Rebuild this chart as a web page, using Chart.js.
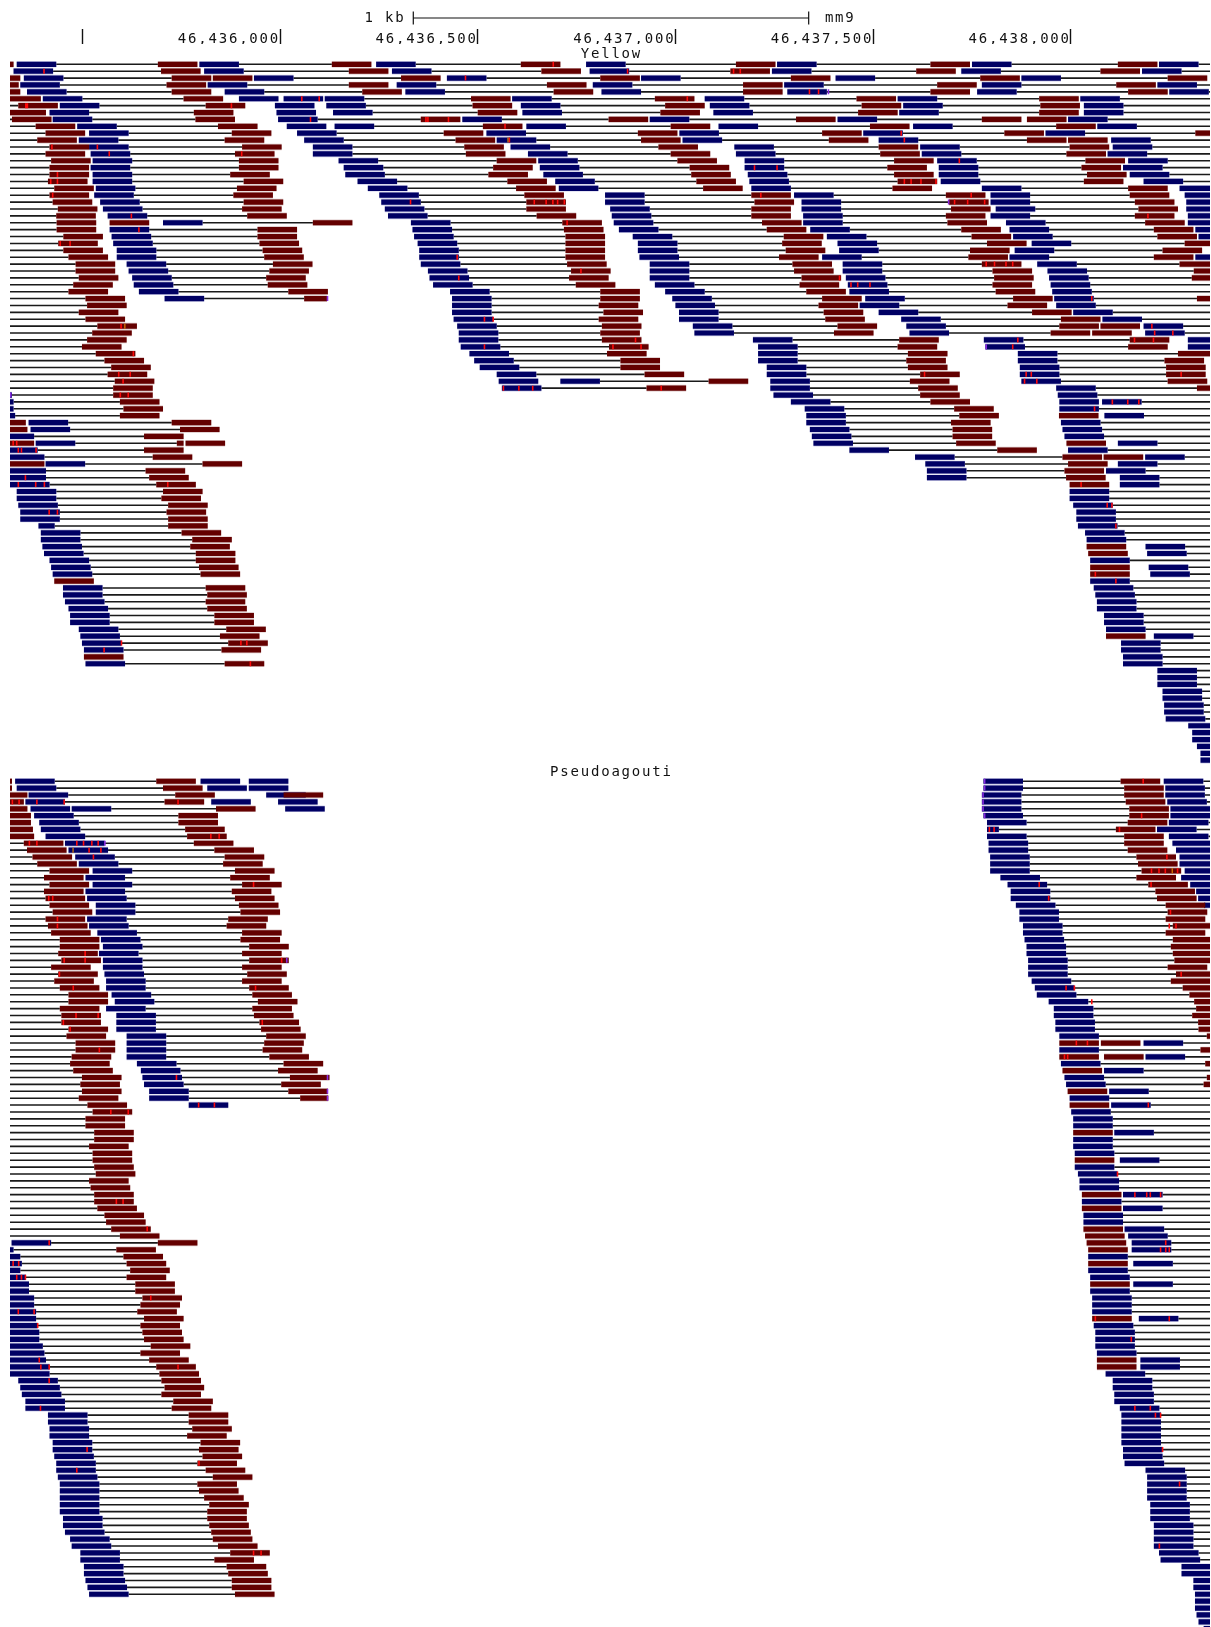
<!DOCTYPE html>
<html>
<head>
<meta charset="utf-8">
<title>Yellow / Pseudoagouti read pairs, mm9</title>
<style>html,body{margin:0;padding:0;background:#fff;overflow:hidden}canvas{display:block}</style>
<script src="https://cdn.jsdelivr.net/npm/chart.js@4"></script>
</head>
<body>
<canvas id="c" width="1211" height="1627"></canvas>
<script>
// Browser window, genome coordinates (mm9)
const windowStart = 46435317;
const windowLength = 3035;
const readLength = 100;
const maxInsertGap = 700;
const tickPositions = [46435500, 46436000, 46436500, 46437000, 46437500, 46438000];
const tickLabels = ['', '46,436,000', '46,436,500', '46,437,000', '46,437,500', '46,438,000'];
const scaleBarStart = 46436337, scaleBarEnd = 46437337;
const pseudoagoutiRowOffset = 104.05;

// Read starts, bp from windowStart, one list per row. [start, length] = shorter read.
const yellowForward = [
[17,479,926,1457,1940,2433,2906],[9,491,966,1466,1927,2406,2863],[35,617,1105,1596,2088,2558],[26,500,978,1474,1958,2458,2902],
[43,543,1000,1496,1966,2446,2932],[83,579,692,796,1270,1757,2245,2707],[126,670,800,1292,1770,2259,2716],[100,674,817,1296,1779,2249,2716],
[108,678,1144,1618,2093,2676],[170,700,821,1306,1792,2284,2750],[200,726,1205,1693,2158,2619],[174,744,1231,1701,2197,2785],
[200,766,1266,1832,2302,2789],[204,766,1310,1836,2306,2776],[209,831,1336,1858,2345,2828],[204,844,1340,1858,2349,2815],
[209,848,1349,1866,2349,2832],[209,879,1379,1870,2354,2867],[217,905,1388,1875,2458,2958],[213,934,1505,1983,2480,2971],
[228,939,1505,2002,2480,2975],[235,948,1518,2002,2493,2975],[247,956,1522,2006,2480,2979],
[387,1014,1527,2006,2519,2979],[252,1018,1540,2024,2528,2998],[257,1022,1575,2066,2537,3006],[261,1031,1588,2093,2584],
[270,1035,1588,2097,2541],[270,1035,1592,2054,2528,2998],[295,1039,1618,2106,2598],[300,1057,1618,2106,2624],
[309,1061,1618,2114,2628],[313,1070,1631,2119,2632],[326,1113,1657,2123,2636],[391,1118,1675,2163,2641],
[1118,1683,2149,2646],[1118,1692,2197,2689],[1122,1692,2254,2763],[1131,1727,2267,2867],[1135,1731,2275,2871],
[1135,1879,2463,2979],[1140,1892,2467,2979],[1162,1892,2549],[1174,1892,2549],[1188,1914,2554],
[1231,1914,2554],[1236,1392,1923,2558],[1244,1923,2646],[-95,1931,2650],[-91,1975,2654,2762],
[-91,2010,2654],[-87,2014,2768],[47,2014,2658],[52,2023,2662],[-39,2028,2667],
[65,2032,2802],[-30,2123,2676],[-13,2289,2871],[90,2315,2802],[-9,2319,2772],
[-9,2319,2807],[0,2807],[17,2680],[17,2680],[21,2689],
[26,2697],[26,2697],[[72,41],2701],[78,2719],[78,2723],
[82,2872],[86,2876],[100,2732],[104,2880],[108,2884],
[2732],[134,2741],[134,2745],[139,2749],[148,2749],
[152,2767],[152,2767],[174,2772],[178,2893],[182,2810],
[187,2810],[2815],[191,2815],[2902],[2902],
[2902],[2915],[2915],[2919],[2919],
[2923],[2980],[2990],[2990],[3002],[3011],[3011]
];
const yellowReverse = [
[-91,374,814,1292,1836,2328,2802],[382,857,1344,1822,2292,2758],[-74,409,513,989,1493,1975,2454,2928],[-78,396,857,1358,1854,2345,2798],
[-74,409,891,1375,1854,2328,2828],[-22,439,1166,1631,2141,2603],[21,495,1170,1657,2154,2606],[-9,465,1183,1645,2145,2603],
[5,469,1039,1514,1988,2458,2572],[65,526,1196,1671,2175,2646],[90,561,1097,1588,2054,2515,2998],[69,543,1127,1596,2071,2572,2676],
[100,587,1149,1640,2197,2680],[90,569,1153,1671,2201,2672],[104,579,1231,1688,2236,2720],[100,579,1222,1719,2219,2710],
[100,557,1210,1723,2236,2724],[96,591,1258,1736,2245,2716],[112,574,1280,1753,2232,2828],[100,565,1301,1875,2367,2832],
[108,591,1306,1883,2375,2845],[121,587,1306,1875,2380,2854],[117,600,1332,1875,2367,2845],
[118,252,766,1397,1902,2371,2871],[118,626,1401,1914,2406,2893],[135,626,1405,1957,2432,2902],[122,631,1405,1953,2471,2971],
[135,639,1405,1962,2428,2915],[148,643,1405,1945,2424,2893],[166,665,1409,1979,2458,2958],[166,656,1419,1983,2485,2994],
[174,648,1414,2002,2489,2989],[160,652,1431,1997,2485],[148,704,1493,2014,2493],[191,[744,58],1493,2054,2537,3002],
[195,1489,2045,2523],[174,1501,2058,2585],[191,1489,2062,2658],[221,1497,2093,2654,2758],[208,1493,2084,2632,2737],
[195,1497,2249,2832],[182,1515,2245,2828],[217,1510,2271,2954],[239,1544,2267,2920],[256,1544,2271,2924],
[247,1605,2302,2924],[265,1767,2276,2928],[261,1610,2297,3002],[261,2302],[278,2328],
[287,2388],[278,2401,2653],[-60,409,2380],[-56,430,2384],[339,2384],
[-39,[422,17],444,2393,2672],[339,2497],[361,2662,2766],[-13,487,2676],[343,2667],
[352,2671],[370,2680],[387],[383],[400],
[396],[400],[400],[434],[461],
[456,2723],[470,2727],[470],[478,2732],[482,2732],
[112],[495],[499],[495],[499],
[517],[517],[547],[531,2772],[552],
[535],[187],[543],[],[],
[],[],[],[],[],
[],[],[],[],[],[],[]
];
const yellowUnlinkedRows = [75, 86];

const pseudoagoutiForward = [
[13,482,604,2462,2918],[17,499,604,2462,2922],[47,648,2458,2922],[39,509,678,2458,2927],[52,156,696,2458,2935],
[61,2462,2935],[74,2471,2931],[78,[2471,30],2901],[90,2471,2931],[139,2475,2940],
[148,2475,2949],[165,2479,2958],[174,2479,2958],[209,2479,2971],[191,2505,2962],
[209,2523,2985],[191,2531,3000],[195,2531,3005],[217,2544,3020],[217,2553],
[195,2553],[200,2562],[221,2562],[230,2566],[235,2571],
[225,2571],[235,2575],[235,2575],[239,2575],[243,2584],
[243,2592],[257,2597],[265,2627],[243,2640],[269,2640],
[269,2644],[269,2644],[295,2654],[295,2867],[295,2654],
[295,2872],[321,2658],[331,2767],[335,2667],[339,2671],
[352,2780],[352,2680],[452,2785],[2684],[2689],
[2689],[2793],[2689],[2689],[2693],
[2807],[2693],[2701],[2705],[2705],
[2815],[2711],[2815],[2715],[2715],
[2819],[2828],[4,2837],[-91,2837],[-74,2727],
[-70,2841],[-74,2727],[-60,2732],[-52,2841],[-52,2732],
[-39,2737],[-39,2737],[-34,2737],[-34,2855],[-30,2741],
[-26,2745],[-26,2745],[-17,2745],[-13,2749],[-9,2859],
[0,2859],[0,2771],[21,2789],[26,2789],[30,2793],
[39,2793],[39,2807],[96,2811],[96,2811],[100,2811],
[100,2811],[108,2811],[108,2815],[112,2815],[117,2819],
[117,2872],[121,2876],[126,2876],[126,2876],[126,2876],
[126,2884],[126,2884],[134,2884],[134,2893],[139,2893],
[152,2893],[156,2893],[178,2906],[178,2910],[187,2963],
[187,2963],[191,2993],[196,2993],[200,2997],[2997],
[2997],[3001],[3006],[3019]
];
const pseudoagoutiReverse = [
[-95,370,2809],[-95,387,2818],[-56,418,692,2818],[-65,391,2822],[-56,521,2831],
[-47,426,2831],[-47,426,2827],[-42,443,2797],[-39,448,2818],[35,465,2818],
[43,517,2827],[57,543,2849],[69,539,2853],[100,569,2862],[86,557,2849],
[100,587,2879],[86,561,2897],[90,569,2901],[100,579,2923],[108,583,2928],
[90,552,2923],[96,548,2941],[104,587,2923],[126,583,2941],[126,605,2936],
[122,587,2941],[130,605,2945],[104,587,2928],[122,600,2949],[112,587,2936],
[126,605,2966],[148,613,2983],[148,627,2995],[126,613,3000],[130,617,2990],
[130,631,3005],[148,635,3006],[143,648,3027],[166,643,2654,2759],[166,639,3011],
[156,656,2654,2767],[152,692,3023],[160,678,2662],[182,708,3027],[178,686,3019],
[182,704,2675],[174,[734,71]],[196,2680],[209],[191],
[191],[213,2689],[213],[200],[209],
[209,2693],[213],[217],[200],[204],
[213,2711],[213],[221,2711],[239],[243],
[256,2715],[278,2719],[374,2723],[269,2727],[287],
[295,2727],[304],[295],[317,2732],[317],
[335],[330],[322],[339,2737],[330],
[335],[339],[356],[330],[352,2749],
[370,2749],[378],[383],[391],[383],
[413],[409],[452],[452],[461],
[448],[482],[478],[487],[474],
[495],[513],[474],[478],[491],
[504],[499],[499],[504],[509],
[513],[526],[557],[517],[548],
[552],[561],[561],[569],[],
[],[],[],[]
];

// Mismatched bases: [row, position in bp from windowStart]
const yellowMismatches = [
[1,84],[6,38],[6,42],[5,736],[5,780],[6,558],[8,758],[12,104],[12,219],[13,249],[13,584],[16,118],[17,101],[17,118],[19,106],[22,305],
[0,1372],[1,1560],[1,1828],[1,1845],[2,1150],[5,1711],[8,1050],[8,1055],[8,1107],[9,1250],[11,1261],[15,1881],[15,1938],[19,1897],
[20,1324],[20,1354],[20,1371],[20,1383],[20,1400],[20,1011],[4,2020],[4,2043],[10,2252],[11,2260],[14,2399],[17,2260],[17,2277],[17,2302],[17,2340],
[19,2429],[20,2387],[20,2420],[20,2463],[22,2876],[24,324],[26,125],[26,150],[38,279],[42,310],[45,273],[45,302],[46,284],[48,277],[48,297],
[23,1407],[28,1129],[30,1442],[31,1133],[37,1198],[37,1220],[40,1580],[41,1198],[41,1523],[41,1594],[47,1246],[47,1285],[47,1320],[47,1645],
[29,2467],[29,2488],[29,2517],[29,2534],[31,2096],[32,2125],[32,2142],[32,2173],[34,2734],[38,2886],[39,2893],[39,2939],[40,2842],[40,2890],[40,2547],
[41,2534],[45,2311],[45,2568],[45,2581],[45,2960],[46,2564],[46,2595],[49,2786],[49,2825],[49,2853],[50,2741],
[55,6],[55,15],[56,19],[56,27],[56,64],[60,37],[61,19],[61,63],[61,85],[61,397],[65,97],[65,118],[84,280],[84,582],[84,597],[85,236],[87,606],
[64,2773],[64,2785],[61,2707],[67,2795],[74,2743],[75,2795]
];
const pseudoagoutiMismatches = [
[3,4],[3,21],[3,66],[3,135],[3,423],[8,506],[8,527],[9,47],[9,66],[9,167],[9,184],[9,205],[9,221],[10,198],[10,228],[11,209],[15,614],[17,96],[17,106],
[20,118],[21,118],[25,188],[26,188],[26,135],[26,685],[28,123],[30,158],[30,619],[34,165],[34,221],[35,133],[35,636],[36,150],
[0,2864],[5,2860],[7,2475],[7,2487],[7,2804],[11,2924],[13,2885],[13,2904],[13,2920],[13,2951],[15,2601],[15,2884],[17,2625],[19,2933],[21,2930],[21,2947],[28,2960],[30,2669],[30,2690],[32,2734],
[39,224],[43,419],[47,475],[47,515],[48,253],[48,297],[61,267],[61,284],[65,345],[67,97],[70,6],[70,20],[72,15],[72,27],[72,37],[75,354],[77,19],[77,59],[79,68],[84,72],[85,76],[85,97],[85,423],[87,97],[91,75],[97,193],[99,476],[100,167],[112,614],[112,633],
[38,2695],[38,2723],[40,2665],[40,2673],[47,2877],[57,2799],[60,2843],[60,2873],[60,2882],[60,2908],[67,2921],[68,2908],[68,2921],[68,2930],[78,2743],[78,2930],[81,2834],[91,2843],[91,2882],[92,2895],[92,2908],[97,2913],[102,2956],[111,2905]
];
// Read-edge insertions (purple) and other base changes (orange): [row, position]
const yellowInsertions = [[48,0],[34,801],[4,2068],[20,2372],[41,2467]];
const pseudoagoutiInsertions = [[0,2463],[1,2463],[2,2459],[3,2459],[4,2459],[5,2463],[9,238],[26,698],[43,801],[45,801],[46,801]];
const yellowOrange = [[11,1258],[38,289]];
const pseudoagoutiOrange = [[10,158],[13,2938]];

// Text placed by genome position and row
const textLabels = [
  {text:'1 kb', x:46436317, row:-6.6, align:'right'},
  {text:'mm9', x:46437378, row:-6.6, align:'left'},
  {text:'Yellow', x:46436838, row:-1.5, align:'center'},
  {text:'Pseudoagouti', x:46436838, row:102.7, align:'center'}
];

const gap = {x:NaN, y:NaN};
const forwardPts = [], reversePts = [], linkPts = [], mismatchPts = [], insertionPts = [], orangePts = [];
const seg = (arr, a, b, y) => { arr.push({x:windowStart+a, y}, {x:windowStart+b, y}, gap); };

function addTrack(fwd, rev, marks, insertions, orange, offset, unlinked) {
  const rows = Math.max(fwd.length, rev.length);
  for (let r = 0; r < rows; r++) {
    const y = r + offset;
    const reads = [];
    const collect = (list, kind) => (list || []).forEach(e => {
      const start = Array.isArray(e) ? e[0] : e;
      const len = Array.isArray(e) ? e[1] : readLength;
      reads.push({kind, start, end: start + len});
    });
    collect(fwd[r], 'F'); collect(rev[r], 'R');
    reads.sort((a, b) => a.start - b.start);
    reads.forEach((rd, i) => {
      seg(rd.kind === 'F' ? forwardPts : reversePts, rd.start, rd.end, y);
      const next = reads[i + 1];
      if (rd.kind === 'F') {
        if (next) {
          if (next.kind === 'R' && next.start > rd.end && next.start - rd.end < maxInsertGap) seg(linkPts, rd.end, next.start, y);
        } else if (rd.end < windowLength && windowLength - rd.end < maxInsertGap) {
          seg(linkPts, rd.end, windowLength, y);
        }
      } else if (i === 0 && rd.start > 0 && rd.start < maxInsertGap && !unlinked.includes(r)) {
        seg(linkPts, 0, rd.start, y);
      }
    });
  }
  marks.forEach(m => seg(mismatchPts, m[1], m[1] + 4, m[0] + offset));
  insertions.forEach(m => seg(insertionPts, m[1], m[1] + 4, m[0] + offset));
  orange.forEach(m => seg(orangePts, m[1], m[1] + 3, m[0] + offset));
}
addTrack(yellowForward, yellowReverse, yellowMismatches, yellowInsertions, yellowOrange, 0, yellowUnlinkedRows);
addTrack(pseudoagoutiForward, pseudoagoutiReverse, pseudoagoutiMismatches, pseudoagoutiInsertions, pseudoagoutiOrange, pseudoagoutiRowOffset, []);

const barRow = -6.72;
const scaleBarPts = [{x:scaleBarStart,y:barRow},{x:scaleBarEnd,y:barRow},gap,
  {x:scaleBarStart,y:barRow-0.95},{x:scaleBarStart,y:barRow+0.95},gap,
  {x:scaleBarEnd,y:barRow-0.95},{x:scaleBarEnd,y:barRow+0.95}];

const FONT = '"DejaVu Sans Mono", monospace';
const base = {showLine:true, pointRadius:0, pointHoverRadius:0, borderCapStyle:'butt', tension:0, spanGaps:false, clip:0, fill:false};

const textPlugin = {
  id:'trackText',
  beforeDraw(chart){ chart.ctx.letterSpacing = '1.8px'; },
  afterDraw(chart){
    const ctx = chart.ctx, xs = chart.scales.x, ys = chart.scales.y;
    ctx.save();
    ctx.font = '14px ' + FONT; ctx.fillStyle = '#111'; ctx.textBaseline = 'middle';
    textLabels.forEach(l => {
      ctx.textAlign = l.align;
      ctx.fillText(l.text, xs.getPixelForValue(l.x), ys.getPixelForValue(l.row));
    });
    ctx.restore();
  }
};

new Chart(document.getElementById('c'), {
  type:'scatter',
  data:{datasets:[
    {...base, label:'Insertions', data:insertionPts, borderColor:'#8a2be2', borderWidth:5},
    {...base, label:'Other changes', data:orangePts, borderColor:'#e08000', borderWidth:5},
    {...base, label:'Mismatches', data:mismatchPts, borderColor:'#ff0a0a', borderWidth:5},
    {...base, label:'Reverse reads', data:reversePts, borderColor:'#640000', borderWidth:5.2},
    {...base, label:'Forward reads', data:forwardPts, borderColor:'#000064', borderWidth:5.2},
    {...base, label:'Reverse halo', data:reversePts, borderColor:'rgba(150,90,90,0.35)', borderWidth:6.6},
    {...base, label:'Forward halo', data:forwardPts, borderColor:'rgba(110,110,190,0.35)', borderWidth:6.6},
    {...base, label:'Pair links', data:linkPts, borderColor:'#1a1a1a', borderWidth:1.6},
    {...base, label:'Scale bar', data:scaleBarPts, borderColor:'#111', borderWidth:1.2, clip:false}
  ]},
  options:{
    responsive:false, animation:false, events:[],
    layout:{padding:{left:10,right:1,top:0,bottom:0}},
    plugins:{legend:{display:false},tooltip:{enabled:false},title:{display:false}},
    scales:{
      x:{type:'linear',position:'top',min:windowStart,max:windowStart+windowLength,
        afterFit(s){ s.height = 44; },
        afterBuildTicks(s){ s.ticks = tickPositions.map(v => ({value:v})); },
        border:{display:false},
        grid:{drawOnChartArea:false,drawTicks:true,tickLength:15,tickWidth:1.4,tickColor:'#111'},
        ticks:{autoSkip:false,maxRotation:0,minRotation:0,align:'end',padding:-19,color:'#111',
          font:{family:FONT,size:14},
          callback:(v)=>{const i=tickPositions.indexOf(v);return i>=0?tickLabels[i]:'';}}
      },
      y:{type:'linear',display:false,reverse:true,min:-2.946,max:226.8}
    }
  },
  plugins:[textPlugin]
});
</script>
</body>
</html>
